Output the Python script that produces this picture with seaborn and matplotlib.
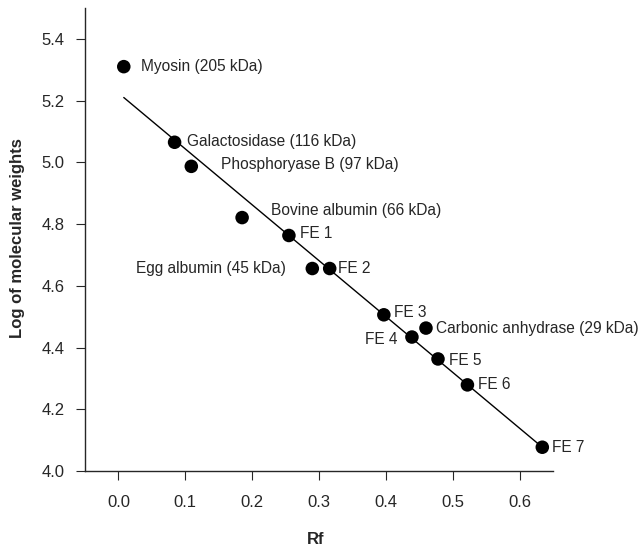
import pandas as pd
import matplotlib.pyplot as plt
import seaborn as sns

sns.set_style("ticks")
plt.rcParams["font.family"] = ["Liberation Sans", "DejaVu Sans"]

# points
labels = ["Myosin (205 kDa)", "Galactosidase (116 kDa)", "Phosphoryase B (97 kDa)",
          "Bovine albumin (66 kDa)", "FE 1", "Egg albumin (45 kDa)", "FE 2", "FE 3",
          "Carbonic anhydrase (29 kDa)", "FE 4", "FE 5", "FE 6", "FE 7"]
rf = [0.008, 0.084, 0.109, 0.185, 0.255, 0.290, 0.316, 0.397, 0.460, 0.439, 0.478, 0.522, 0.634]
log_mw = [5.31, 5.065, 4.987, 4.821, 4.763, 4.656, 4.656, 4.506, 4.463, 4.434, 4.363, 4.279, 4.077]

# fitted line ends
fit_rf = [0.008, 0.634]
fit_logmw = [5.21, 4.077]

# label offsets (pixels) and alignment
offsets = [(17, 0), (12, 1), (30, 2), (29, 7), (11, 2), (-26, 0), (8, 0),
           (10, 2), (10, 0), (-14, -2), (11, -2), (11, 0), (10, 0)]
aligns = ["left"] * 5 + ["right"] + ["left"] * 3 + ["right"] + ["left"] * 3

df = pd.DataFrame({"Rf": rf, "logmw": log_mw, "label": labels})
fit = pd.DataFrame({"Rf": fit_rf, "logmw": fit_logmw})

fig = plt.figure(figsize=(6.42, 5.5), dpi=100)
ax = fig.add_axes([85 / 642, 79 / 550, 468 / 642, 463 / 550])

sns.lineplot(data=fit, x="Rf", y="logmw", color="black", linewidth=1.0, ax=ax)
sns.scatterplot(data=df, x="Rf", y="logmw", color="black", s=95, edgecolor="none",
                zorder=3, ax=ax)

for (_, r), (dx, dy), ha in zip(df.iterrows(), offsets, aligns):
    ax.annotate(r["label"], (r["Rf"], r["logmw"]), xytext=(dx, dy),
                textcoords="offset pixels", ha=ha, va="center", fontsize=11.2,
                annotation_clip=False)

ax.set_xlim(-0.05, 0.65)
ax.set_ylim(4.0, 5.5)
ax.set_xticks([0.0, 0.1, 0.2, 0.3, 0.4, 0.5, 0.6])
ax.set_yticks([4.0, 4.2, 4.4, 4.6, 4.8, 5.0, 5.2, 5.4])
ax.set_xticklabels([f"{v:.1f}" for v in ax.get_xticks()])
ax.set_yticklabels([f"{v:.1f}" for v in ax.get_yticks()])
ax.tick_params(direction="out", length=6.5, width=0.8, labelsize=12)
ax.tick_params(axis="x", pad=11)
ax.tick_params(axis="y", pad=8)
for s in ["top", "right"]:
    ax.spines[s].set_visible(False)
for s in ["left", "bottom"]:
    ax.spines[s].set_linewidth(1.0)

ax.set_xlabel("Rf", fontsize=12, fontweight="bold")
ax.set_ylabel("Log of molecular weights", fontsize=12, fontweight="bold")
ax.xaxis.label.set_va("center")
ax.yaxis.label.set_va("center")
ax.xaxis.set_label_coords((316 - 85) / 468, -(540 - 471) / 463)
ax.yaxis.set_label_coords(-(85 - 18) / 468, (471 - 238) / 463)

fig.savefig("out.png", dpi=100)
